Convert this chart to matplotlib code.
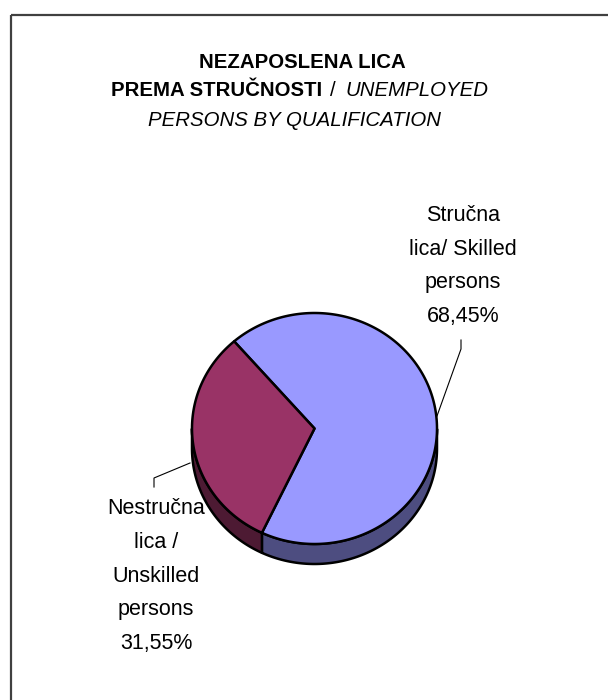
import numpy as np
import matplotlib.pyplot as plt
from matplotlib.patches import Polygon, Rectangle

plt.rcParams['font.family'] = ['Liberation Sans', 'DejaVu Sans']

# data
labels = ['Stručna\nlica/ Skilled\npersons\n68,45%',
          'Nestručna\nlica /\nUnskilled\npersons\n31,55%']
values = [68.45, 31.55]
top_colors = ['#9999FF', '#993366']
side_colors = ['#4D4D80', '#4D1A33']

fig = plt.figure(figsize=(6.08, 7.0), dpi=100)
ax = fig.add_axes([0, 0, 1, 1])
ax.set_xlim(0, 608)
ax.set_ylim(700, 0)
ax.axis('off')

# chart frame (runs off the right and bottom edges)
ax.add_patch(Rectangle((11, 15), 620, 700, fill=False, ec='#404040', lw=1.6))

# pie geometry in pixels
cx, cy, a, b, depth = 314.5, 428.5, 122.5, 115.5, 20
start = 131.0


def pt(theta, dy=0.0):
    t = np.radians(theta)
    return cx + a * np.cos(t), cy - b * np.sin(t) + dy


angles = []
t0 = start
for v in values:
    t1 = t0 - 360 * v / 100
    angles.append((t0, t1))
    t0 = t1

# sides first
for (t0, t1), col in zip(angles, side_colors):
    th = np.linspace(t0, t1, 600)
    low = np.sin(np.radians(th)) <= 0
    if not low.any():
        continue
    th = th[low]
    xs, ys = pt(th)
    xb, yb = pt(th[::-1], depth)
    poly = np.column_stack([np.r_[xs, xb], np.r_[ys, yb]])
    ax.add_patch(Polygon(poly, closed=True, fc=col, ec='black', lw=1.8, joinstyle='round'))

# top faces
for (t0, t1), col in zip(angles, top_colors):
    th = np.linspace(t0, t1, 400)
    xs, ys = pt(th)
    poly = np.column_stack([np.r_[cx, xs], np.r_[cy, ys]])
    ax.add_patch(Polygon(poly, closed=True, fc=col, ec='black', lw=1.8, joinstyle='round'))

# leader lines
ax.plot([461, 461, 437], [340, 349, 416], color='black', lw=0.8)
ax.plot([154, 154, 190], [487, 478, 463], color='black', lw=0.8)

# data labels
ax.text(463, 266, labels[0], ha='center', va='center', fontsize=15.5,
        linespacing=1.8, color='black')
ax.text(156, 576, labels[1], ha='center', va='center', fontsize=15.5,
        linespacing=1.8, color='black')

# title
fs = 14.7
ax.text(302, 62, 'NEZAPOSLENA LICA', ha='center', va='center',
        fontsize=fs, fontweight='bold')
ax.text(322, 91, 'PREMA STRUČNOSTI', ha='right', va='center',
        fontsize=fs, fontweight='bold')
ax.text(333, 91, '/', ha='center', va='center', fontsize=fs)
ax.text(345, 91, 'UNEMPLOYED', ha='left', va='center',
        fontsize=fs, style='italic')
ax.text(294, 121, 'PERSONS BY QUALIFICATION', ha='center', va='center',
        fontsize=fs, style='italic')

fig.savefig('out.png', dpi=100)
